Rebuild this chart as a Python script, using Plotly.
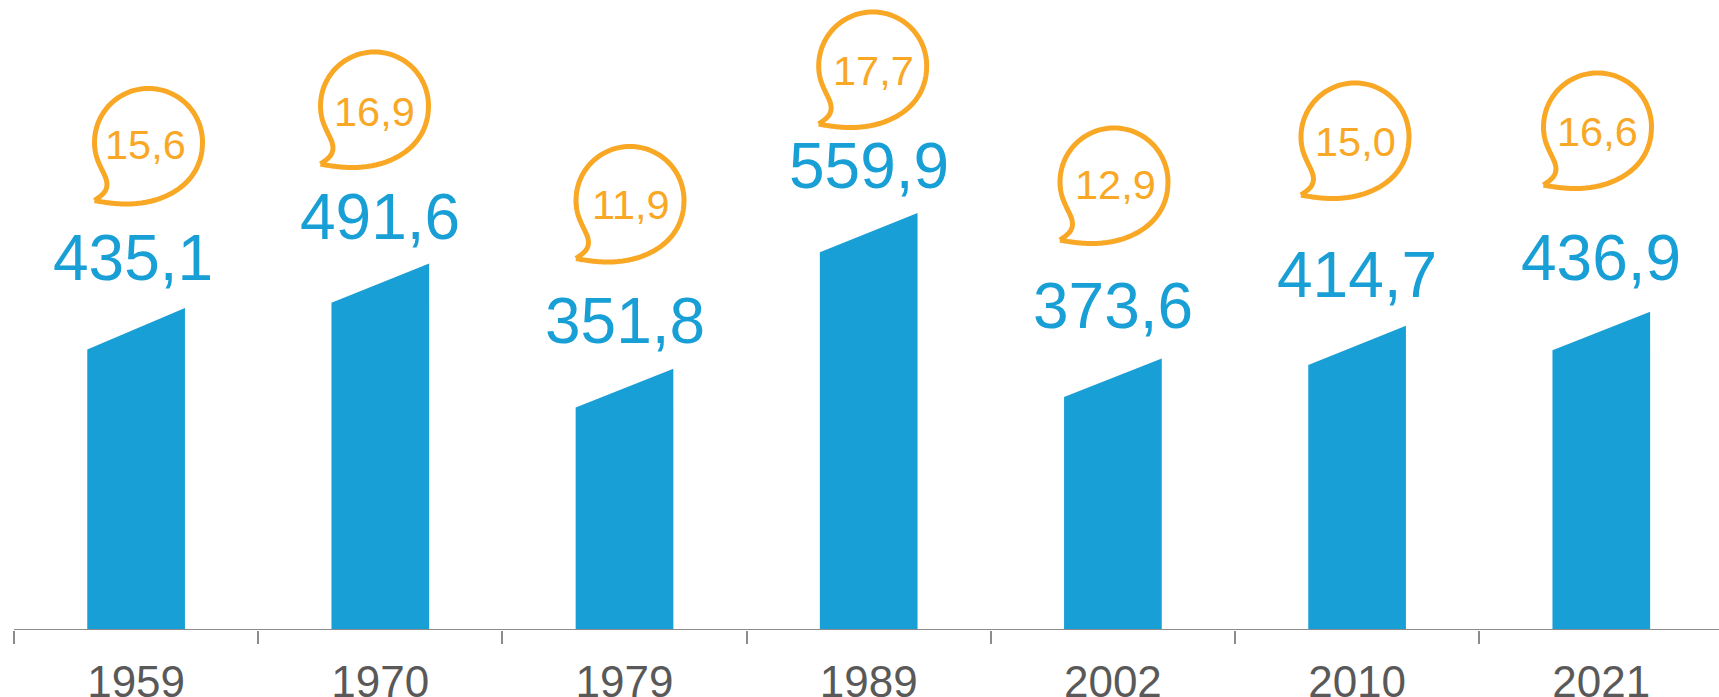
import plotly.graph_objects as go

years = ["1959", "1970", "1979", "1989", "2002", "2010", "2021"]
population_labels = ["435,1", "491,6", "351,8", "559,9", "373,6", "414,7", "436,9"]
share_labels = ["15,6", "16,9", "11,9", "17,7", "12,9", "15,0", "16,6"]
# bar tops (axis units)
bar_top_right = [434, 494, 352, 562, 366, 410, 429]
bar_top_left = [378, 441, 300, 509, 314, 357, 377]

BLUE = "#189FD6"
ORANGE = "#F9A825"
GREY = "#8C8C8C"
TEXT = "#595959"
FONT = "Liberation Sans, Arial, sans-serif"

W, H = 1719, 697
AXIS_Y = 630
STEP = 244.2
X0 = 14
PX_PER_UNIT = 0.742
BAR_HALF = 0.2

x_lo = -0.5 - X0 / STEP
x_hi = x_lo + W / STEP
y_hi = AXIS_Y / PX_PER_UNIT

# label placement in screen pixels
value_label_y = [257.5, 217, 321, 166.2, 305.5, 274.5, 258]
value_label_dx = [-3, 0, 0, 0, 0, 0, 0]
bubble_cx = [148.5, 374.5, 630, 872.7, 1114, 1355, 1597.5]
bubble_cy = [142.5, 106, 200.5, 66, 182, 137, 127]
share_label_x = [145, 374.5, 631, 873.8, 1115, 1355, 1597]
share_label_y = [144, 111, 204.3, 70.3, 184.3, 141.4, 131.6]

# speech-bubble outline: cubic Bezier segments in pixels around the bubble centre
BUBBLE = [
    [(-54, -58), (-47, -53), (-38, -48), (-43, -35)],
    [(-43, -35), (-47, -25), (-54, -16), (-54, 0)],
    [(-54, 0), (-54, 30), (-30, 54), (0, 54)],
    [(0, 54), (30, 54), (54, 30), (54, 0)],
    [(54, 0), (54, -40), (18, -61.5), (-22, -61.5)],
    [(-22, -61.5), (-33, -61.5), (-44, -60), (-54, -58)],
]


def bubble_points():
    xs, ys = [], []
    for p0, p1, p2, p3 in BUBBLE:
        for k in range(24):
            t = k / 24
            a, b, c, d = (1 - t) ** 3, 3 * t * (1 - t) ** 2, 3 * t * t * (1 - t), t ** 3
            xs.append(a * p0[0] + b * p1[0] + c * p2[0] + d * p3[0])
            ys.append(a * p0[1] + b * p1[1] + c * p2[1] + d * p3[1])
    xs.append(BUBBLE[0][0][0])
    ys.append(BUBBLE[0][0][1])
    return xs, ys


fig = go.Figure()

for i in range(len(years)):
    fig.add_trace(go.Scatter(
        x=[i - BAR_HALF, i - BAR_HALF, i + BAR_HALF, i + BAR_HALF, i - BAR_HALF],
        y=[0, bar_top_left[i], bar_top_right[i], 0, 0],
        mode="lines", fill="toself", fillcolor=BLUE,
        line=dict(width=0, color=BLUE), hoverinfo="skip", showlegend=False,
    ))

bx, by = bubble_points()
for i in range(len(years)):
    bar_x = X0 + STEP * (i + 0.5)
    fig.add_trace(go.Scatter(
        x=[i + (bubble_cx[i] - bar_x + a) / STEP for a in bx],
        y=[(AXIS_Y - bubble_cy[i] + b) / PX_PER_UNIT for b in by],
        mode="lines", line=dict(color=ORANGE, width=5, simplify=False),
        hoverinfo="skip", showlegend=False,
    ))

# invisible trace so the boundary-tick axis exists
fig.add_trace(go.Scatter(x=[x_lo, x_hi], y=[0, 0], xaxis="x2", mode="lines",
                         line=dict(width=0), hoverinfo="skip", showlegend=False))

shapes = [dict(type="line", xref="x", yref="y", x0=-0.5, x1=x_hi + 1, y0=0, y1=0,
               line=dict(color=GREY, width=2), layer="above")]
annotations = []
for i in range(len(years)):
    bar_x = X0 + STEP * (i + 0.5)
    annotations.append(dict(
        x=i, y=0, xref="x", yref="y", text=population_labels[i], showarrow=False,
        xanchor="center", yanchor="middle",
        xshift=value_label_dx[i], yshift=AXIS_Y - value_label_y[i],
        font=dict(family=FONT, size=64, color=BLUE),
    ))
    annotations.append(dict(
        x=i, y=0, xref="x", yref="y", text=share_labels[i], showarrow=False,
        xanchor="center", yanchor="middle",
        xshift=share_label_x[i] - bar_x, yshift=AXIS_Y - share_label_y[i],
        font=dict(family=FONT, size=41.5, color=ORANGE),
    ))

fig.update_layout(
    width=W, height=H,
    margin=dict(l=0, r=0, t=0, b=H - AXIS_Y, pad=0),
    paper_bgcolor="white", plot_bgcolor="white",
    showlegend=False,
    xaxis=dict(
        range=[x_lo, x_hi], tickmode="array",
        tickvals=list(range(len(years))), ticktext=years,
        ticks="", showgrid=False, zeroline=False, showline=False,
        tickfont=dict(family=FONT, size=44, color=TEXT),
        ticklabelstandoff=22, automargin=False,
    ),
    xaxis2=dict(
        range=[x_lo, x_hi], overlaying="x", side="bottom", anchor="y",
        tickmode="array", tickvals=[k - 0.5 for k in range(len(years) + 1)],
        ticktext=[""] * (len(years) + 1), ticks="outside", ticklen=13,
        tickwidth=2, tickcolor=GREY, showgrid=False, zeroline=False,
        showline=False, automargin=False,
    ),
    yaxis=dict(range=[0, y_hi], visible=False, automargin=False),
    shapes=shapes, annotations=annotations,
)

post = """
document.body.style.margin='0';
document.body.style.overflow='hidden';
"""
fig.write_html("out.html", config=dict(displayModeBar=False), post_script=post)
